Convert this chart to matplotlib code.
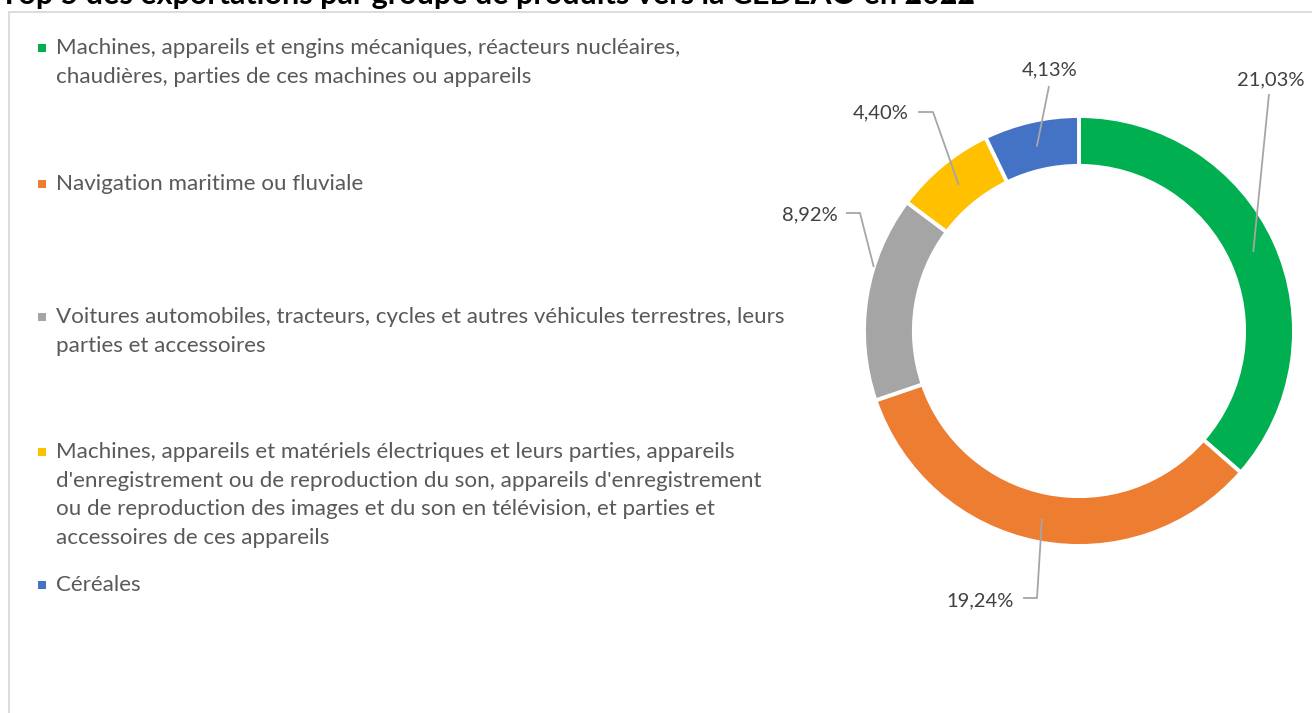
import matplotlib
matplotlib.use("Agg")
import matplotlib.pyplot as plt
import numpy as np

# ---------------- data ----------------
title = "Top 5 des exportations par groupe de produits vers la CEDEAO en 2022"
categories = [
    "Machines, appareils et engins mécaniques, réacteurs nucléaires,\nchaudières, parties de ces machines ou appareils",
    "Navigation maritime ou fluviale",
    "Voitures automobiles, tracteurs, cycles et autres véhicules terrestres, leurs\nparties et accessoires",
    "Machines, appareils et matériels électriques et leurs parties, appareils\nd'enregistrement ou de reproduction du son, appareils d'enregistrement\nou de reproduction des images et du son en télévision, et parties et\naccessoires de ces appareils",
    "Céréales",
]
values = [21.03, 19.24, 8.92, 4.40, 4.13]
value_labels = ["21,03%", "19,24%", "8,92%", "4,40%", "4,13%"]
colors = ["#00B050", "#ED7D31", "#A5A5A5", "#FFC000", "#4472C4"]

# ---------------- layout (pixel space, y measured from top) ----------------
W, H = 1312, 713
fig = plt.figure(figsize=(W / 100, H / 100), dpi=100)
ax = fig.add_axes([0, 0, 1, 1])
ax.set_xlim(0, W)
ax.set_ylim(0, H)
ax.axis("off")

def Y(y):
    return H - y

FONT = "Lato"
cx, cy, R = 1079, 331, 215
ring_w = 0.232

wedges, _ = ax.pie(values, colors=colors, startangle=90, counterclock=False,
                   center=(cx, Y(cy)), radius=R,
                   wedgeprops=dict(width=R * ring_w, edgecolor="white", linewidth=2.8))
ax.set_xlim(0, W)
ax.set_ylim(0, H)

# frame border
ax.plot([8, W], [Y(12), Y(12)], color="#d9d9d9", lw=1.3, solid_capstyle="butt")
ax.plot([9, 9], [Y(12), 0], color="#d9d9d9", lw=1.3, solid_capstyle="butt")

# title (cut at the top of the image, as in the reference)
fig.canvas.draw()
r = fig.canvas.get_renderer()
t = ax.text(0, Y(4), title, fontsize=18, fontweight="bold", family=FONT,
            color="black", ha="left", va="baseline")
bb = t.get_window_extent(renderer=r)
t.set_fontsize(18 * 975 / bb.width)

# legend
leg_fs = 13
line_h = 28.7
entry_y = [48, 184, 317, 452, 585]
probe = ax.text(0, 0, categories[2].split("\n")[0], fontsize=leg_fs, family=FONT)
pw = probe.get_window_extent(renderer=r).width
probe.remove()
leg_fs = leg_fs * 727 / pw
for cat, col, y0 in zip(categories, colors, entry_y):
    lines = cat.split("\n")
    for k, ln in enumerate(lines):
        ax.text(56, Y(y0 + k * line_h), ln, fontsize=leg_fs, family=FONT,
                color="#595959", ha="left", va="center")
    ax.add_patch(plt.Rectangle((38, Y(y0) - 4), 8, 8, color=col, lw=0))

# data labels with leader lines
label_pos = [(1271, 80), (980, 601), (810, 215), (881, 113), (1050, 70)]
anchor_frac = [0.5, 0.5, 0.35, 0.5, 0.5]
anchor_r = [0.89, 0.89, 1.0, 0.88, 0.88]
elbows = [None, (1037, 598), (860, 213), (933, 112), None]
starts = [(1269, 94), (1023, 598), (846, 213), (918, 112), (1049, 86)]
lab_fs = 14.5
for w, lab, (lx, ly), fr, ar, el, st in zip(wedges, value_labels, label_pos,
                                            anchor_frac, anchor_r, elbows, starts):
    th1, th2 = w.theta1, w.theta2
    ang = np.deg2rad(th1 + (th2 - th1) * fr)
    axp = cx + R * ar * np.cos(ang)
    ayp = Y(cy) + R * ar * np.sin(ang)
    xs = [st[0]]
    ys = [Y(st[1])]
    if el is not None:
        xs.append(el[0]); ys.append(Y(el[1]))
    xs.append(axp); ys.append(ayp)
    ax.plot(xs, ys, color="#A6A6A6", lw=1.3, solid_capstyle="butt")
    ax.text(lx, Y(ly), lab, fontsize=lab_fs, family=FONT, color="#404040",
            ha="center", va="center")

fig.savefig("out.png", dpi=100)
